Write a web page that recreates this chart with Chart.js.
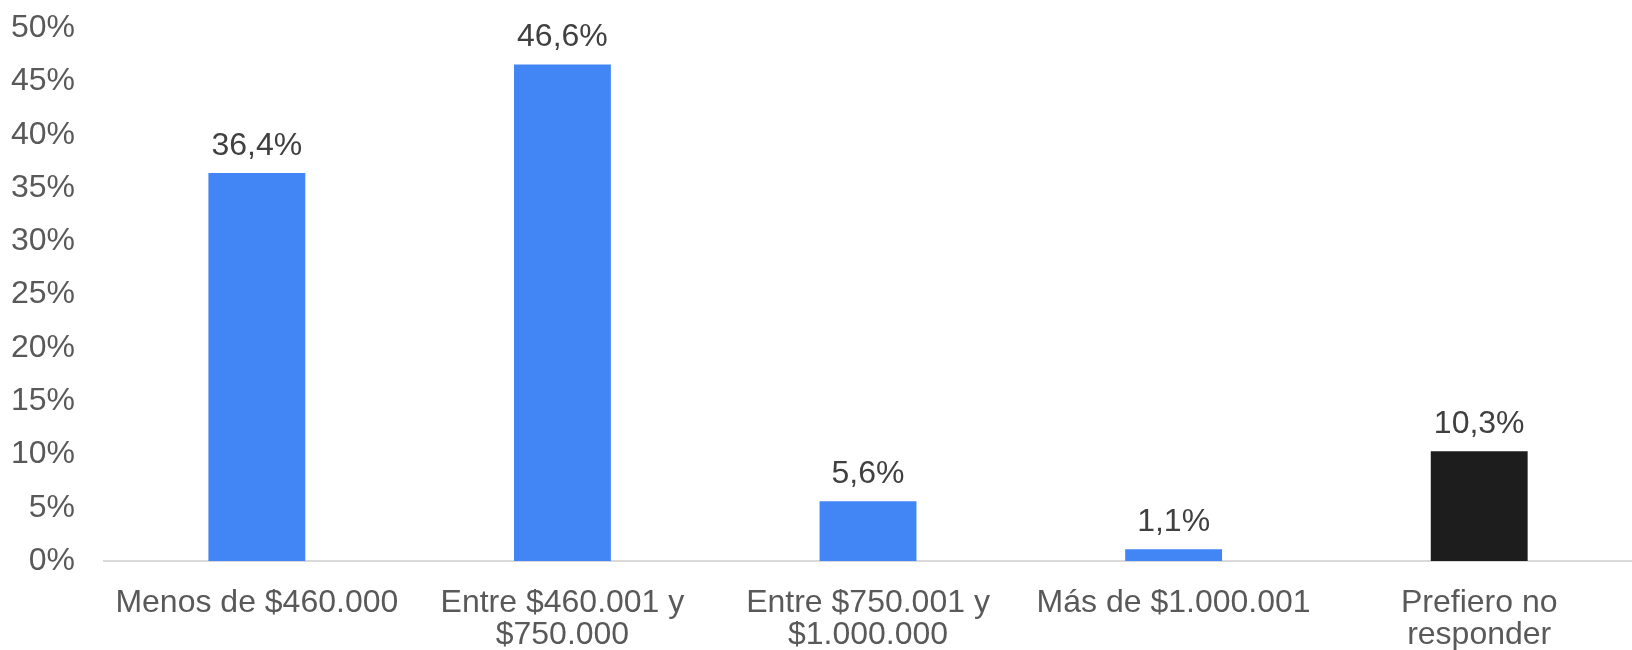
<!DOCTYPE html>
<html>
<head>
<meta charset="utf-8">
<script src="https://cdn.jsdelivr.net/npm/chart.js@4"></script>
<style>
  html, body { margin: 0; padding: 0; background: #fff; overflow: hidden; }
  /* canvas starts a little above the page so the plot can use the full height */
  #wrap { width: 1632px; height: 672px; margin-top: -20px; }
</style>
</head>
<body>
<div id="wrap"><canvas id="myChart"></canvas></div>
<script>
// Income brackets and share of responses (%)
var categories = [
    'Menos de $460.000',
    ['Entre $460.001 y', '$750.000'],
    ['Entre $750.001 y', '$1.000.000'],
    'Más de $1.000.001',
    ['Prefiero no', 'responder']
];
var shares = [36.4, 46.6, 5.6, 1.1, 10.3];
var barColors = ['#4285F4', '#4285F4', '#4285F4', '#4285F4', '#1D1D1D'];
var yTicks = [0, 5, 10, 15, 20, 25, 30, 35, 40, 45, 50];

var FONT = '"Liberation Sans", Arial, sans-serif';

// writes "36,4%" above each bar
var valueLabels = {
    id: 'valueLabels',
    afterDatasetsDraw: function (chart) {
        var ctx = chart.ctx;
        var meta = chart.getDatasetMeta(0);
        ctx.save();
        ctx.font = '32px ' + FONT;
        ctx.fillStyle = '#404040';
        ctx.textAlign = 'center';
        ctx.textBaseline = 'alphabetic';
        meta.data.forEach(function (bar, i) {
            var txt = shares[i].toFixed(1).replace('.', ',') + '%';
            ctx.fillText(txt, bar.x, bar.y - 18);
        });
        ctx.restore();
    }
};

var ctx = document.getElementById('myChart').getContext('2d');
var chart = new Chart(ctx, {
    type: 'bar',
    data: {
        labels: categories,
        datasets: [{
            data: shares,
            backgroundColor: barColors,
            borderWidth: 0,
            categoryPercentage: 1,
            barPercentage: 0.317
        }]
    },
    options: {
        responsive: true,
        maintainAspectRatio: false,
        animation: false,
        layout: { padding: { left: -18, top: 0, right: 0, bottom: -25 } },
        plugins: {
            legend: { display: false },
            tooltip: { enabled: false }
        },
        scales: {
            x: {
                grid: { display: false, drawTicks: false },
                border: { display: true, color: '#D9D9D9', width: 2 },
                ticks: {
                    color: '#595959',
                    padding: 26,
                    maxRotation: 0,
                    autoSkip: false,
                    font: { family: FONT, size: 32, lineHeight: 1.0 }
                }
            },
            y: {
                min: 0,
                max: 50,
                afterBuildTicks: function (axis) {
                    axis.ticks = yTicks.map(function (v) { return { value: v }; });
                },
                grid: { display: false, drawTicks: false },
                border: { display: false },
                ticks: {
                    color: '#595959',
                    padding: 29,
                    font: { family: FONT, size: 32 },
                    callback: function (v) { return v + '%'; }
                }
            }
        }
    },
    plugins: [valueLabels]
});
</script>
</body>
</html>
